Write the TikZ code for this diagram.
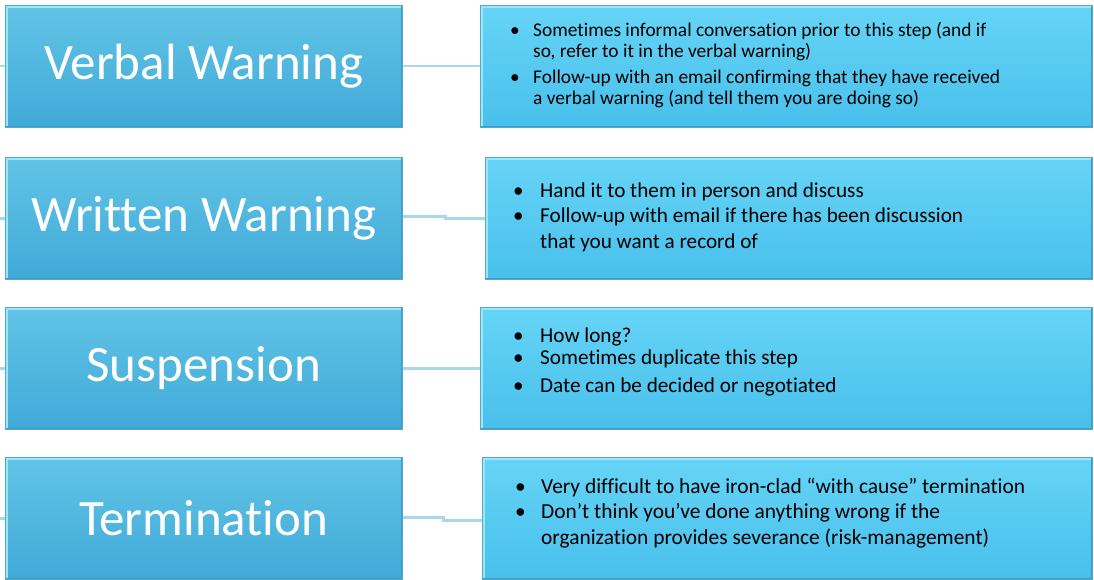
\documentclass[tikz,border=0pt]{standalone}
\usepackage{fontspec}
\setmainfont[Ligatures=CommonOff]{Carlito}
\usetikzlibrary{positioning,calc}

\definecolor{stagetop}{HTML}{62C4E6}
\definecolor{stagebot}{HTML}{40AAD8}
\definecolor{notetop}{HTML}{66D4F6}
\definecolor{notebot}{HTML}{48C0EC}
\definecolor{bevellight}{HTML}{9BE6FA}
\definecolor{beveldark}{HTML}{3A9CC8}
\definecolor{edgeline}{HTML}{5AA8C8}
\definecolor{linkline}{HTML}{A9D8EE}

\newlength{\bulw}
\newcommand{\bul}{\makebox[\bulw][l]{\textbullet}}
\newcommand{\ind}{\hspace*{\bulw}}
\newcommand{\notelines}[1]{\parbox[t]{580pt}{\raggedright #1}}

\tikzset{
  bevel/.style={path picture={
      \draw[bevellight,line width=5pt] (path picture bounding box.south west) --
      (path picture bounding box.north west) -- (path picture bounding box.north east);
      \draw[beveldark,line width=3pt] (path picture bounding box.north east) --
      (path picture bounding box.south east) -- (path picture bounding box.south west);}},
  stagebox/.style={bevel, anchor=north west, inner sep=0pt, minimum width=397pt,
    minimum height=122pt, top color=stagetop, bottom color=stagebot,
    draw=edgeline, line width=0.5pt, text=white,
    font=\fontsize{51}{58}\selectfont},
  notebox/.style={bevel, anchor=north west, inner sep=0pt, minimum height=122pt,
    top color=notetop, bottom color=notebot, draw=edgeline, line width=0.5pt},
  notetext/.style={anchor=base west, inner sep=0pt, text=black},
  link/.style={linkline, line width=2.5pt}
}

\begin{document}
\begin{tikzpicture}[x=1pt,y=-1pt]
  \useasboundingbox (0,0) rectangle (1094,580);

  \node[stagebox] (verbal) at (5,5) {Verbal Warning};
  \node[stagebox] (written) at (5,157) {Written Warning};
  \node[stagebox] (suspension) at (5,307) {Suspension};
  \node[stagebox] (termination) at (5,457) {Termination};

  \node[notebox, minimum width=612pt] (verbalnote) at (480,5) {};
  \node[notebox, minimum width=607pt] (writtennote) at (485,157) {};
  \node[notebox, minimum width=612pt] (suspensionnote) at (480,307) {};
  \node[notebox, minimum width=610pt] (terminationnote) at (482,457) {};

  % stubs on the left edge
  \foreach \s in {verbal,written,suspension,termination}
    \draw[link] (\s.west) -- ++(-6,0);

  \draw[link] (verbal.east) -- (verbalnote.west);
  \draw[link] ([yshift=2pt]written.east) -- ++(43,0) |- (writtennote.west);
  \draw[link] (suspension.east) -- (suspensionnote.west);
  \draw[link] ([yshift=1pt]termination.east) -- ++(41,0) |- ([yshift=-2pt]terminationnote.west);

  \setlength{\bulw}{23pt}
  \node[notetext, font=\fontsize{19.4}{21}\selectfont] (verbaltext) at (510,37)
    {\notelines{\bul Sometimes informal conversation prior to this step (and if\\
     \ind so, refer to it in the verbal warning)\\[5pt]
     \bul Follow-up with an email confirming that they have received\\
     \ind a verbal warning (and tell them you are doing so)}};

  \setlength{\bulw}{27pt}
  \node[notetext, font=\fontsize{21.2}{25.5}\selectfont] (writtentext) at (513,197)
    {\notelines{\bul Hand it to them in person and discuss\\
     \bul Follow-up with email if there has been discussion\\
     \ind that you want a record of}};

  \node[notetext, font=\fontsize{21.2}{22}\selectfont] (suspensiontext) at (513,342)
    {\notelines{\bul How long?\\
     \bul Sometimes duplicate this step\\[6pt]
     \bul Date can be decided or negotiated}};

  \setlength{\bulw}{26pt}
  \node[notetext, font=\fontsize{21.4}{25.5}\selectfont] (terminationtext) at (515,493)
    {\notelines{\bul Very difficult to have iron-clad \textquotedblleft with cause\textquotedblright\ termination\\
     \bul Don\textquoteright t think you\textquoteright ve done anything wrong if the\\
     \ind organization provides severance (risk-management)}};
\end{tikzpicture}
\end{document}
